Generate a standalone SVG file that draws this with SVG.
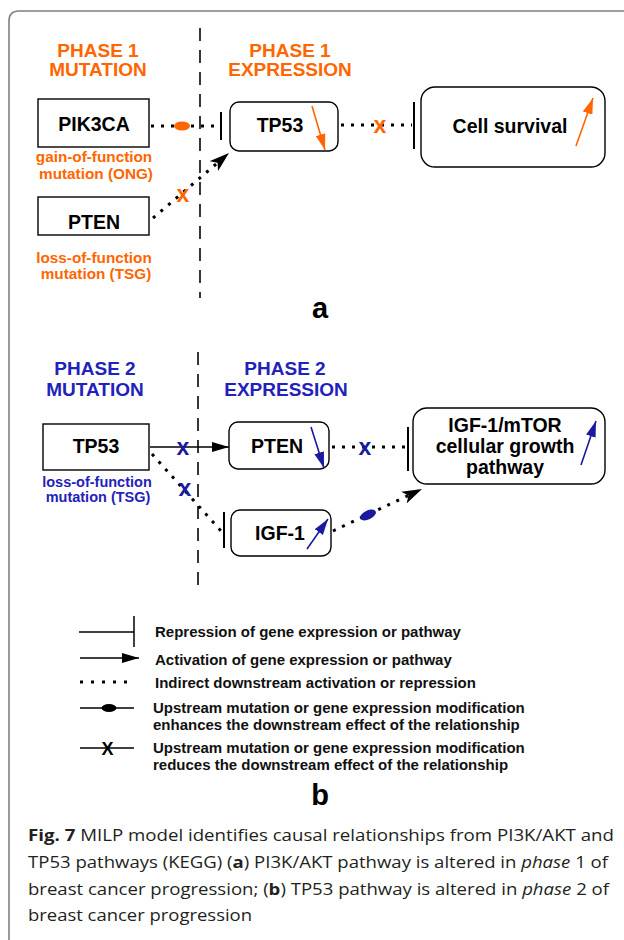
<svg xmlns="http://www.w3.org/2000/svg" width="624" height="940" viewBox="0 0 624 940">
<style>
.node{fill:#fff;stroke:#000;stroke-width:1.4}
.lbl{font-family:"Liberation Sans",Arial,sans-serif;font-weight:bold;font-size:19.5px;fill:#000;text-anchor:middle}
.ph1{font-family:"Liberation Sans",Arial,sans-serif;font-weight:bold;font-size:19px;fill:#ff6600;text-anchor:middle}
.ph2{font-family:"Liberation Sans",Arial,sans-serif;font-weight:bold;font-size:19px;fill:#2222bb;text-anchor:middle}
.sub1{font-family:"Liberation Sans",Arial,sans-serif;font-weight:bold;font-size:15.3px;fill:#ff6600;text-anchor:middle}
.sub2{font-family:"Liberation Sans",Arial,sans-serif;font-weight:bold;font-size:14.5px;fill:#2222bb;text-anchor:middle}
.xo{font-family:"Liberation Sans",Arial,sans-serif;font-weight:bold;font-size:23px;fill:#ff6600;text-anchor:middle}
.xb{font-family:"Liberation Sans",Arial,sans-serif;font-weight:bold;font-size:23px;fill:#1a1a9e;text-anchor:middle}
.xl{font-family:"Liberation Sans",Arial,sans-serif;font-weight:bold;font-size:18px;fill:#000;text-anchor:middle}
.dot{fill:none;stroke:#000;stroke-width:3;stroke-dasharray:3 7}
.solid{fill:none;stroke:#000;stroke-width:1.5}
.bar{stroke:#000;stroke-width:2}
.div{stroke:#222;stroke-width:1.8;stroke-dasharray:13 9}
.oarr{stroke:#ff6600;stroke-width:1.6}
.barr{stroke:#1a1a9e;stroke-width:1.6}
.leg{font-family:"Liberation Sans",Arial,sans-serif;font-weight:bold;font-size:15px;fill:#111}
.big{font-family:"Liberation Sans",Arial,sans-serif;font-weight:bold;font-size:29px;fill:#000;text-anchor:middle}
.cap{font-family:"Open Sans","Noto Sans",sans-serif;font-size:16.5px;fill:#231f20}
</style>
<defs>
<marker id="tri" viewBox="0 0 17 10" refX="17" refY="5" markerWidth="17" markerHeight="10" markerUnits="userSpaceOnUse" orient="auto"><path d="M0,0 L17,5 L0,10 z" fill="#000"/></marker>
<marker id="dart" viewBox="0 0 20 13" refX="20" refY="6.5" markerWidth="20" markerHeight="13" markerUnits="userSpaceOnUse" orient="auto"><path d="M0,0 L20,6.5 L0,13 L5,6.5 z" fill="#000"/></marker>
<marker id="otri" viewBox="0 0 16 10" refX="16" refY="5" markerWidth="16" markerHeight="10" markerUnits="userSpaceOnUse" orient="auto"><path d="M0,0 L16,5 L0,10 z" fill="#ff6600"/></marker>
<marker id="btri" viewBox="0 0 16 10" refX="16" refY="5" markerWidth="16" markerHeight="10" markerUnits="userSpaceOnUse" orient="auto"><path d="M0,0 L16,5 L0,10 z" fill="#1a1a9e"/></marker>
</defs>
<rect width="624" height="940" fill="#fff"/>
<path d="M9,940 L9,21 Q9,11 19,11 L624,11" fill="none" stroke="#808080" stroke-width="1.6"/>

<g id="dividers">
<line class="div" x1="200" y1="28" x2="200" y2="298"/>
<line class="div" x1="198" y1="352" x2="198" y2="588"/>
</g>

<g id="headings">
<text class="ph1" x="98" y="57">PHASE 1</text>
<text class="ph1" x="98" y="76">MUTATION</text>
<text class="ph1" x="290" y="57">PHASE 1</text>
<text class="ph1" x="290" y="76">EXPRESSION</text>
<text class="ph2" x="95" y="375">PHASE 2</text>
<text class="ph2" x="95" y="396">MUTATION</text>
<text class="ph2" x="285" y="375">PHASE 2</text>
<text class="ph2" x="286" y="396">EXPRESSION</text>
</g>

<g id="connectors">
<line class="dot" x1="151" y1="126" x2="220" y2="126"/>
<ellipse cx="182" cy="126" rx="8" ry="4.5" fill="#ff6600"/>
<line class="bar" x1="221" y1="112" x2="221" y2="140"/>
<line class="dot" x1="153" y1="218" x2="229" y2="153" marker-end="url(#dart)"/>
<text class="xo" x="183" y="202">x</text>
<line class="dot" x1="341" y1="125" x2="412" y2="125"/>
<text class="xo" x="380" y="133">x</text>
<line class="bar" x1="414" y1="102" x2="414" y2="149"/>

<line class="solid" x1="150" y1="447" x2="229" y2="447" marker-end="url(#tri)"/>
<text class="xb" x="183" y="455">x</text>
<line class="dot" x1="152" y1="454" x2="221" y2="531"/>
<text class="xb" x="185" y="496">x</text>
<line class="bar" x1="224" y1="512" x2="224" y2="548"/>
<line class="dot" x1="332" y1="447" x2="406" y2="447"/>
<text class="xb" x="365" y="455">x</text>
<line class="bar" x1="408" y1="427" x2="408" y2="471"/>
<line class="dot" x1="333" y1="531" x2="422" y2="489" marker-end="url(#dart)"/>
<ellipse cx="368" cy="515" rx="8.5" ry="4.5" fill="#1a1a9e" transform="rotate(-25 368 515)"/>
</g>

<g id="node-pik3ca">
<rect class="node" x="38" y="99" width="111" height="48"/>
<text class="lbl" x="94" y="131">PIK3CA</text>
<text class="sub1" x="94" y="162">gain-of-function</text>
<text class="sub1" x="96" y="179">mutation (ONG)</text>
</g>
<g id="node-pten1">
<rect class="node" x="38" y="197" width="111" height="38"/>
<text class="lbl" x="94" y="229">PTEN</text>
<text class="sub1" x="94" y="263">loss-of-function</text>
<text class="sub1" x="96" y="279">mutation (TSG)</text>
</g>
<g id="node-tp53-1">
<rect class="node" x="230" y="102" width="108" height="49" rx="9"/>
<text class="lbl" x="280" y="132">TP53</text>
<line class="oarr" x1="312" y1="106" x2="325" y2="150" marker-end="url(#otri)"/>
</g>
<g id="node-cell">
<rect class="node" x="421" y="87" width="184" height="80" rx="14"/>
<text class="lbl" x="510" y="133">Cell survival</text>
<line class="oarr" x1="576" y1="146" x2="593" y2="98" marker-end="url(#otri)"/>
</g>
<text class="big" x="320" y="318">a</text>

<g id="node-tp53-2">
<rect class="node" x="43" y="424" width="106" height="46"/>
<text class="lbl" x="96" y="453">TP53</text>
<text class="sub2" x="97" y="487">loss-of-function</text>
<text class="sub2" x="98" y="502">mutation (TSG)</text>
</g>
<g id="node-pten2">
<rect class="node" x="229" y="422" width="100" height="47" rx="9"/>
<text class="lbl" x="277" y="453">PTEN</text>
<line class="barr" x1="311" y1="427" x2="324" y2="468" marker-end="url(#btri)"/>
</g>
<g id="node-igf1">
<rect class="node" x="231" y="510" width="100" height="46" rx="9"/>
<text class="lbl" x="280" y="540">IGF-1</text>
<line class="barr" x1="307" y1="549" x2="328" y2="519" marker-end="url(#btri)"/>
</g>
<g id="node-mtor">
<rect class="node" x="413" y="408" width="192" height="76" rx="14"/>
<text class="lbl" x="505" y="432">IGF-1/mTOR</text>
<text class="lbl" x="505" y="453">cellular growth</text>
<text class="lbl" x="505" y="474">pathway</text>
<line class="barr" x1="581" y1="465" x2="596" y2="421" marker-end="url(#btri)"/>
</g>

<g id="legend">
<line class="solid" x1="79" y1="632" x2="134" y2="632"/>
<line class="solid" x1="134" y1="616" x2="134" y2="647"/>
<text class="leg" x="155" y="637">Repression of gene expression or pathway</text>
<line class="solid" x1="80" y1="658" x2="139" y2="658" marker-end="url(#tri)"/>
<text class="leg" x="155" y="665">Activation of gene expression or pathway</text>
<line x1="80" y1="682" x2="130" y2="682" stroke="#000" stroke-width="3" stroke-dasharray="3 8"/>
<text class="leg" x="155" y="688">Indirect downstream activation or repression</text>
<line class="solid" x1="80" y1="708" x2="134" y2="708"/>
<ellipse cx="109" cy="708" rx="7.5" ry="4" fill="#000"/>
<text class="leg" x="153" y="713">Upstream mutation or gene expression modification</text>
<text class="leg" x="153" y="730">enhances the downstream effect of the relationship</text>
<line class="solid" x1="80" y1="748" x2="134" y2="748"/>
<text class="xl" x="107.5" y="754.5">X</text>
<text class="leg" x="153" y="753">Upstream mutation or gene expression modification</text>
<text class="leg" x="153" y="770">reduces the downstream effect of the relationship</text>
</g>
<text class="big" x="320" y="805">b</text>

<g id="caption">
<text class="cap" x="28" y="841" textLength="586" lengthAdjust="spacingAndGlyphs"><tspan font-weight="bold">Fig. 7</tspan> MILP model identifies causal relationships from PI3K/AKT and</text>
<text class="cap" x="28" y="868" textLength="580" lengthAdjust="spacingAndGlyphs">TP53 pathways (KEGG) (<tspan font-weight="bold">a</tspan>) PI3K/AKT pathway is altered in <tspan font-style="italic">phase</tspan> 1 of</text>
<text class="cap" x="28" y="895" textLength="581" lengthAdjust="spacingAndGlyphs">breast cancer progression; (<tspan font-weight="bold">b</tspan>) TP53 pathway is altered in <tspan font-style="italic">phase</tspan> 2 of</text>
<text class="cap" x="28" y="921" textLength="224" lengthAdjust="spacingAndGlyphs">breast cancer progression</text>
</g>
</svg>
